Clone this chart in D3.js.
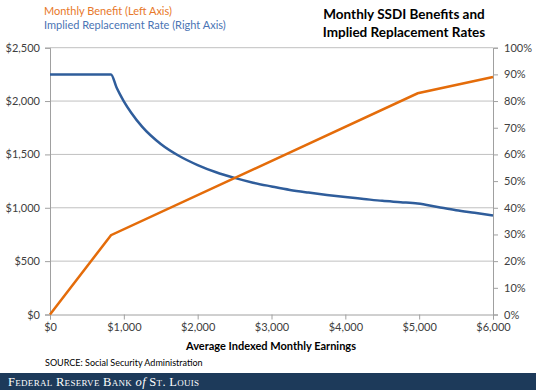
<!DOCTYPE html>
<html><head><meta charset="utf-8">
<script src="https://cdn.jsdelivr.net/npm/d3@7"></script>
<style>
body{margin:0;background:#fff;}
svg{display:block;}
text{font-family:Lato,"Open Sans",sans-serif;}
</style></head>
<body><svg id="c" width="536" height="390"></svg>
<script>
// Average indexed monthly earnings ($) and monthly benefit ($)
const benefitEarnings = [0, 826, 4980, 6000];
const benefitValues   = [0, 743, 2073, 2226];
// Implied replacement rate (%)
const rateEarnings = [0, 826, 900, 950, 1000, 1100, 1250, 1500, 1750, 2000, 2250, 2500, 2750, 3000, 3250, 3500, 3750, 4000, 4250, 4500, 4750, 4980, 5250, 5500, 5750, 6000];
const rateValues   = [90, 90, 85.2, 82.4, 79.9, 75.6, 70.3, 63.9, 59.4, 56.0, 53.3, 51.2, 49.4, 48.0, 46.7, 45.7, 44.8, 44.0, 43.3, 42.6, 42.1, 41.6, 40.3, 39.1, 38.1, 37.1];
const xTicks = [0, 1000, 2000, 3000, 4000, 5000, 6000];
const leftTicks = [0, 500, 1000, 1500, 2000, 2500];
const rightTicks = [0, 10, 20, 30, 40, 50, 60, 70, 80, 90, 100];
const titleLines = ["Monthly SSDI Benefits and", "Implied Replacement Rates"];
const legendLabels = ["Monthly Benefit (Left Axis)", "Implied Replacement Rate (Right Axis)"];

const svg = d3.select("#c");
const L = 50, R = 493, T = 47.7, B = 314.5;
const x = d3.scaleLinear().domain([0, 6000]).range([L, R]);
const yL = d3.scaleLinear().domain([0, 2500]).range([B, T]);
const yR = d3.scaleLinear().domain([0, 100]).range([B, T]);
const orange = "#E46C0A", blue = "#2F5D9B";
const gridC = "#C0C0C0", axisC = "#A0A0A0", txt = "#404040";

// gridlines
svg.append("g").selectAll("line").data(leftTicks.filter(d => d > 0)).join("line")
  .attr("x1", L).attr("x2", R).attr("y1", d => yL(d)).attr("y2", d => yL(d))
  .attr("stroke", gridC).attr("stroke-width", 1);

const fmt$ = d => "$" + d3.format(",")(d);

const gl = svg.append("g").attr("transform", `translate(${L},0)`)
  .call(d3.axisLeft(yL).tickValues(leftTicks).tickFormat(fmt$).tickSize(5).tickPadding(5));
const gr = svg.append("g").attr("transform", `translate(${R},0)`)
  .call(d3.axisRight(yR).tickValues(rightTicks).tickFormat(d => d + "%").tickSize(5).tickPadding(6));
const gb = svg.append("g").attr("transform", `translate(0,${B})`)
  .call(d3.axisBottom(x).tickValues(xTicks).tickFormat(fmt$).tickSize(5).tickPadding(4));
[gl, gr, gb].forEach(g => {
  g.select(".domain").attr("stroke", axisC).attr("stroke-width", 1);
  g.selectAll(".tick line").attr("stroke", axisC);
  g.selectAll(".tick text").attr("fill", txt).style("font-size", "11px").style("font-family", "Lato, sans-serif");
});

const benefit = benefitEarnings.map((e, i) => [e, benefitValues[i]]);
const rate = rateEarnings.map((e, i) => [e, rateValues[i]]);
svg.append("path").datum(rate)
  .attr("d", d3.line().x(d => x(d[0])).y(d => yR(d[1])).curve(d3.curveMonotoneX))
  .attr("fill", "none").attr("stroke", blue).attr("stroke-width", 2.5);
svg.append("path").datum(benefit)
  .attr("d", d3.line().x(d => x(d[0])).y(d => yL(d[1])))
  .attr("fill", "none").attr("stroke", orange).attr("stroke-width", 2.5);

svg.append("text").attr("x", 44).attr("y", 15).attr("fill", "#E8782A").style("font-size", "11px").text(legendLabels[0]);
svg.append("text").attr("x", 44).attr("y", 29).attr("fill", "#4A74B4").style("font-size", "11px").text(legendLabels[1]);

svg.append("g").selectAll("text").data(titleLines).join("text")
  .attr("x", 404).attr("y", (d, i) => 19 + i * 18).attr("text-anchor", "middle")
  .attr("fill", "#000").style("font-size", "13.5px").style("font-weight", "bold").text(d => d);

svg.append("text").attr("x", 271).attr("y", 350).attr("text-anchor", "middle")
  .attr("fill", "#000").style("font-size", "11px").style("font-weight", "bold").text("Average Indexed Monthly Earnings");
svg.append("text").attr("x", 45).attr("y", 366).attr("fill", "#000").style("font-size", "9px").text("SOURCE: Social Security Administration");

svg.append("rect").attr("x", 0).attr("y", 373).attr("width", 536).attr("height", 17).attr("fill", "#1D3A5A");
const ft = svg.append("text").attr("x", 8).attr("y", 386).attr("fill", "#fff")
  .style("font-family", "'Liberation Serif', 'DejaVu Serif', serif").style("font-size", "12.5px").style("font-variant", "small-caps").style("letter-spacing", "0.3px");
ft.append("tspan").text("Federal Reserve Bank ");
ft.append("tspan").style("font-style", "italic").style("font-variant", "normal").text("of");
ft.append("tspan").text(" St. Louis");
</script></body></html>
